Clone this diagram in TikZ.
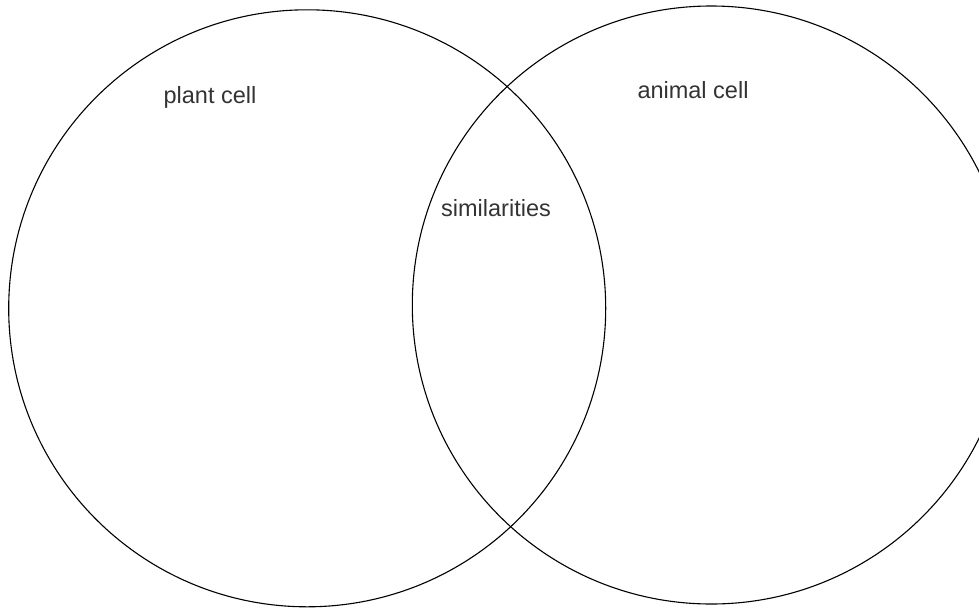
\documentclass[tikz,border=0pt]{standalone}
\usepackage{fontspec}
\setmainfont{Liberation Sans}
\definecolor{txt}{HTML}{333333}
\begin{document}
\begin{tikzpicture}[x=1pt,y=-1pt,
  setc/.style={draw=black,line width=1.1pt},
  lbl/.style={text=txt,font=\fontsize{23.5}{27}\selectfont,inner sep=0pt}]
\useasboundingbox (0,0) rectangle (979,608);
\begin{scope}
\clip (0,0) rectangle (979,608);
\node[setc,circle,minimum size=597pt,inner sep=0pt] (plant) at (307.2,308.3) {};
\node[setc,circle,minimum size=598pt,inner sep=0pt] (animal) at (711.3,305) {};
\end{scope}
\node[lbl] (plantlbl) at (210,97) {plant cell};
\node[lbl] (animallbl) at (693,90) {animal cell};
\node[lbl] (simlbl) at (496,208) {similarities};
\end{tikzpicture}
\end{document}
